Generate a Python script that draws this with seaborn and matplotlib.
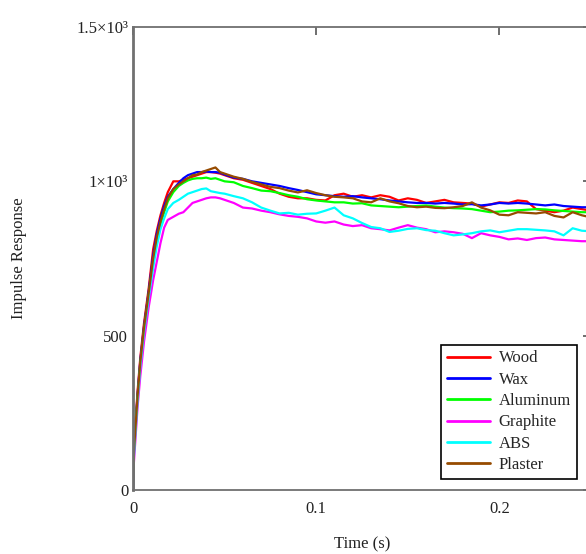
import pandas as pd
import seaborn as sns
import matplotlib.pyplot as plt

# === 1. Datos ===
time = [0, 0.0005, 0.0015, 0.0025, 0.004, 0.006, 0.0085, 0.011, 0.013, 0.015,
        0.017, 0.019, 0.022, 0.025, 0.0275, 0.03, 0.0325, 0.035, 0.0375, 0.04,
        0.0425, 0.045, 0.0475, 0.05, 0.055, 0.06, 0.065, 0.07, 0.075, 0.08,
        0.085, 0.09, 0.095, 0.10, 0.105, 0.11, 0.115, 0.12, 0.125, 0.13,
        0.135, 0.14, 0.145, 0.15, 0.155, 0.16, 0.165, 0.17, 0.175, 0.18,
        0.185, 0.19, 0.195, 0.20, 0.205, 0.21, 0.215, 0.22, 0.225, 0.23,
        0.235, 0.24, 0.245, 0.25]

wood = [0, 140, 230, 320, 430, 540, 650, 780, 840, 890,
        930, 965, 1000, 1000, 1005, 1010, 1015, 1020, 1025, 1030,
        1030, 1028, 1025, 1020, 1010, 1005, 995, 985, 975, 960,
        950, 945, 945, 940, 938, 955, 960, 950, 955, 948,
        955, 950, 938, 945, 940, 930, 935, 940, 932, 930,
        928, 918, 925, 932, 930, 938, 935, 910, 905, 900,
        905, 915, 910, 905]

wax = [0, 130, 220, 310, 420, 530, 640, 760, 830, 880,
       920, 950, 975, 995, 1010, 1020, 1025, 1030, 1030, 1032,
       1030, 1030, 1028, 1022, 1012, 1008, 1000, 995, 990, 985,
       978, 972, 965, 958, 955, 952, 950, 952, 948, 945,
       942, 938, 935, 932, 930, 930, 928, 930, 928, 925,
       926, 922, 925, 930, 928, 930, 928, 925, 922, 925,
       920, 918, 916, 916]

aluminum = [0, 120, 210, 300, 410, 520, 630, 740, 810, 860,
            900, 935, 965, 985, 995, 1003, 1008, 1010, 1010, 1012,
            1008, 1010, 1005, 1000, 997, 985, 978, 970, 968, 962,
            955, 950, 942, 938, 935, 932, 932, 928, 929, 922,
            920, 918, 916, 918, 920, 922, 918, 915, 913, 912,
            910, 905, 900, 902, 905, 906, 908, 910, 909, 906,
            904, 902, 900, 900]

graphite = [0, 90, 180, 270, 370, 480, 590, 680, 740, 800,
            850, 875, 885, 895, 900, 915, 930, 935, 940, 945,
            948, 948, 945, 940, 930, 915, 912, 905, 900, 893,
            888, 885, 880, 870, 866, 870, 860, 855, 858, 848,
            845, 841, 850, 858, 850, 845, 835, 838, 835, 830,
            816, 832, 825, 820, 812, 815, 810, 816, 818, 812,
            810, 808, 806, 806]

abs_ = [0, 110, 200, 290, 400, 510, 620, 720, 790, 845,
        880, 910, 930, 940, 950, 960, 965, 970, 975, 977,
        968, 965, 962, 960, 952, 945, 932, 915, 905, 896,
        898, 892, 895, 896, 905, 915, 890, 880, 865, 852,
        848, 836, 840, 846, 848, 842, 840, 832, 825, 828,
        832, 838, 841, 835, 840, 845, 845, 843, 841, 838,
        825, 848, 840, 838]

plaster = [0, 125, 215, 305, 415, 525, 635, 750, 820, 870,
           910, 945, 975, 990, 1000, 1010, 1020, 1022, 1030, 1035,
           1040, 1045, 1030, 1025, 1015, 1008, 998, 990, 982, 978,
           970, 964, 971, 962, 955, 950, 948, 945, 935, 932,
           945, 935, 929, 920, 916, 918, 914, 913, 916, 920,
           932, 915, 906, 892, 890, 900, 898, 896, 900, 888,
           883, 900, 890, 883]

materials = ["Wood", "Wax", "Aluminum", "Graphite", "ABS", "Plaster"]
series = [wood, wax, aluminum, graphite, abs_, plaster]
colors = ["#ff0000", "#0000ff", "#00ff00", "#ff00ff", "#00ffff", "#964b00"]

yticks = [0, 500, 1000, 1500]
ytick_labels = ["0", "500", "1×10³", "1.5×10³"]
xticks = [0, 0.1, 0.2]
xtick_labels = ["0", "0.1", "0.2"]

# === 2. Tabla larga ===
rows = []
for name, vals in zip(materials, series):
    for t, v in zip(time, vals):
        rows.append({"Time": t, "Response": v, "Material": name})
df = pd.DataFrame(rows)

# === 3. Grafico ===
sns.set_style("white")
plt.rcParams["font.family"] = ["Liberation Serif", "DejaVu Serif"]

fig = plt.figure(figsize=(5.86, 5.54), dpi=100)
ax = fig.add_axes([133 / 586, 64 / 554, 458 / 586, 463 / 554])

sns.lineplot(data=df, x="Time", y="Response", hue="Material",
             hue_order=materials, palette=dict(zip(materials, colors)),
             estimator=None, sort=False, linewidth=1.6, ax=ax)

ax.set_xlim(0, 0.25)
ax.set_ylim(0, 1500)
ax.set_xticks(xticks, xtick_labels)
ax.set_yticks(yticks, ytick_labels)
ax.tick_params(direction="in", length=6, width=1.2, colors="#555555",
               labelcolor="#222222", labelsize=12, top=True, right=True)
ax.tick_params(axis="x", pad=8)

for side, sp in ax.spines.items():
    sp.set_visible(True)
    sp.set_color("#707070")
    sp.set_linewidth(1.3)
ax.spines["left"].set_linewidth(2)

ax.set_xlabel("Time (s)", fontsize=12, color="#222222")
ax.set_ylabel("Impulse Response", fontsize=12, color="#222222")
ax.xaxis.set_label_coords(0.5, -0.10)
ax.yaxis.set_label_coords(-0.231, 0.5)

sns.move_legend(ax, loc="lower right", bbox_to_anchor=(0.969, 0.024),
                title=None, fontsize=12, frameon=True, fancybox=False,
                edgecolor="black", framealpha=1, borderpad=0.35,
                labelspacing=0.32, handlelength=2.6, handletextpad=0.5,
                borderaxespad=0)
leg = ax.get_legend()
leg.get_frame().set_linewidth(1.2)
for line in leg.get_lines():
    line.set_linewidth(2)

plt.savefig("out.png", dpi=100)
plt.close()
